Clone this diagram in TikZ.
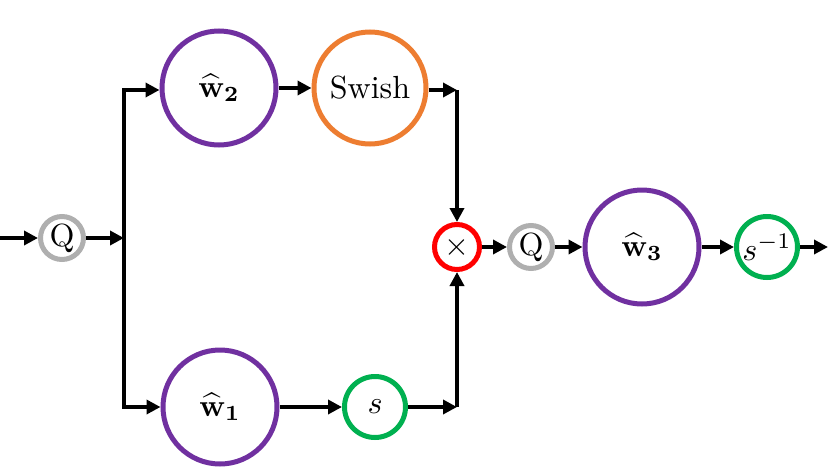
\documentclass[tikz,border=0pt]{standalone}
\usepackage{graphicx}
\usetikzlibrary{arrows.meta}
\definecolor{cpurple}{RGB}{112,48,160}
\definecolor{corange}{RGB}{237,125,49}
\definecolor{cgreen}{RGB}{0,176,80}
\definecolor{cgray}{RGB}{175,175,175}
\definecolor{cred}{RGB}{255,0,0}
\newcommand{\bigtxt}[1]{\scalebox{3.2}{\normalsize #1}}
\newcommand{\wvec}[1]{\scalebox{3.1}{\normalsize$\widehat{\mathbf{w}}_{\mathbf{#1}}$}}
\tikzset{
  op/.style={circle,draw,line width=5pt,inner sep=0pt,fill=white},
  big/.style={op,draw=cpurple,minimum size=114pt},
  qnode/.style={op,draw=cgray,minimum size=43pt},
  snode/.style={op,draw=cgreen,minimum size=61pt},
  conn/.style={line width=4.5pt,black,-{Triangle[length=14pt,width=14pt]}},
  bus/.style={line width=4.5pt,black,line cap=rect}
}
\begin{document}
\begin{tikzpicture}[x=1pt,y=-1pt]
\useasboundingbox (0,0) rectangle (830,474);
\node[qnode] (q1) at (62,238) {\bigtxt{Q}};
\node[big] (w2) at (219,88) {\wvec{2}};
\node[op,draw=corange,minimum size=112pt] (sw) at (370,88) {\bigtxt{Swish}};
\node[big] (w1) at (220,407) {\wvec{1}};
\node[snode] (s) at (375,407) {\bigtxt{$s$}};
\node[op,draw=cred,minimum size=45pt] (mul) at (457,247) {\bigtxt{$\times$}};
\node[qnode] (q2) at (531,247) {\bigtxt{Q}};
\node[big] (w3) at (642,247) {\wvec{3}};
\node[snode] (si) at (767,247) {\bigtxt{$s^{-1}$}};
\coordinate (in) at (0,238);
\coordinate (bm) at (124,238);
\coordinate (bt) at (124,90);
\coordinate (bb) at (124,407);
\coordinate (c1) at (457,90);
\coordinate (c2) at (457,407);
\coordinate (out) at (828,247);
\draw[bus] (bt) -- (bb);
\draw[conn] (in) -- (q1);
\draw[conn] (q1) -- (bm);
\draw[conn] (bt) -- (w2.west |- bt);
\draw[conn] (bb) -- (w1);
\draw[conn] (w2) -- (sw);
\draw[conn] (sw.east |- c1) -- (c1);
\draw[conn] (c1) -- (mul);
\draw[conn] (w1) -- (s);
\draw[conn] (s) -- (c2);
\draw[conn] (c2) -- (mul);
\draw[conn] (mul) -- (q2);
\draw[conn] (q2) -- (w3);
\draw[conn] (w3) -- (si);
\draw[conn] (si) -- (out);
\end{tikzpicture}
\end{document}
